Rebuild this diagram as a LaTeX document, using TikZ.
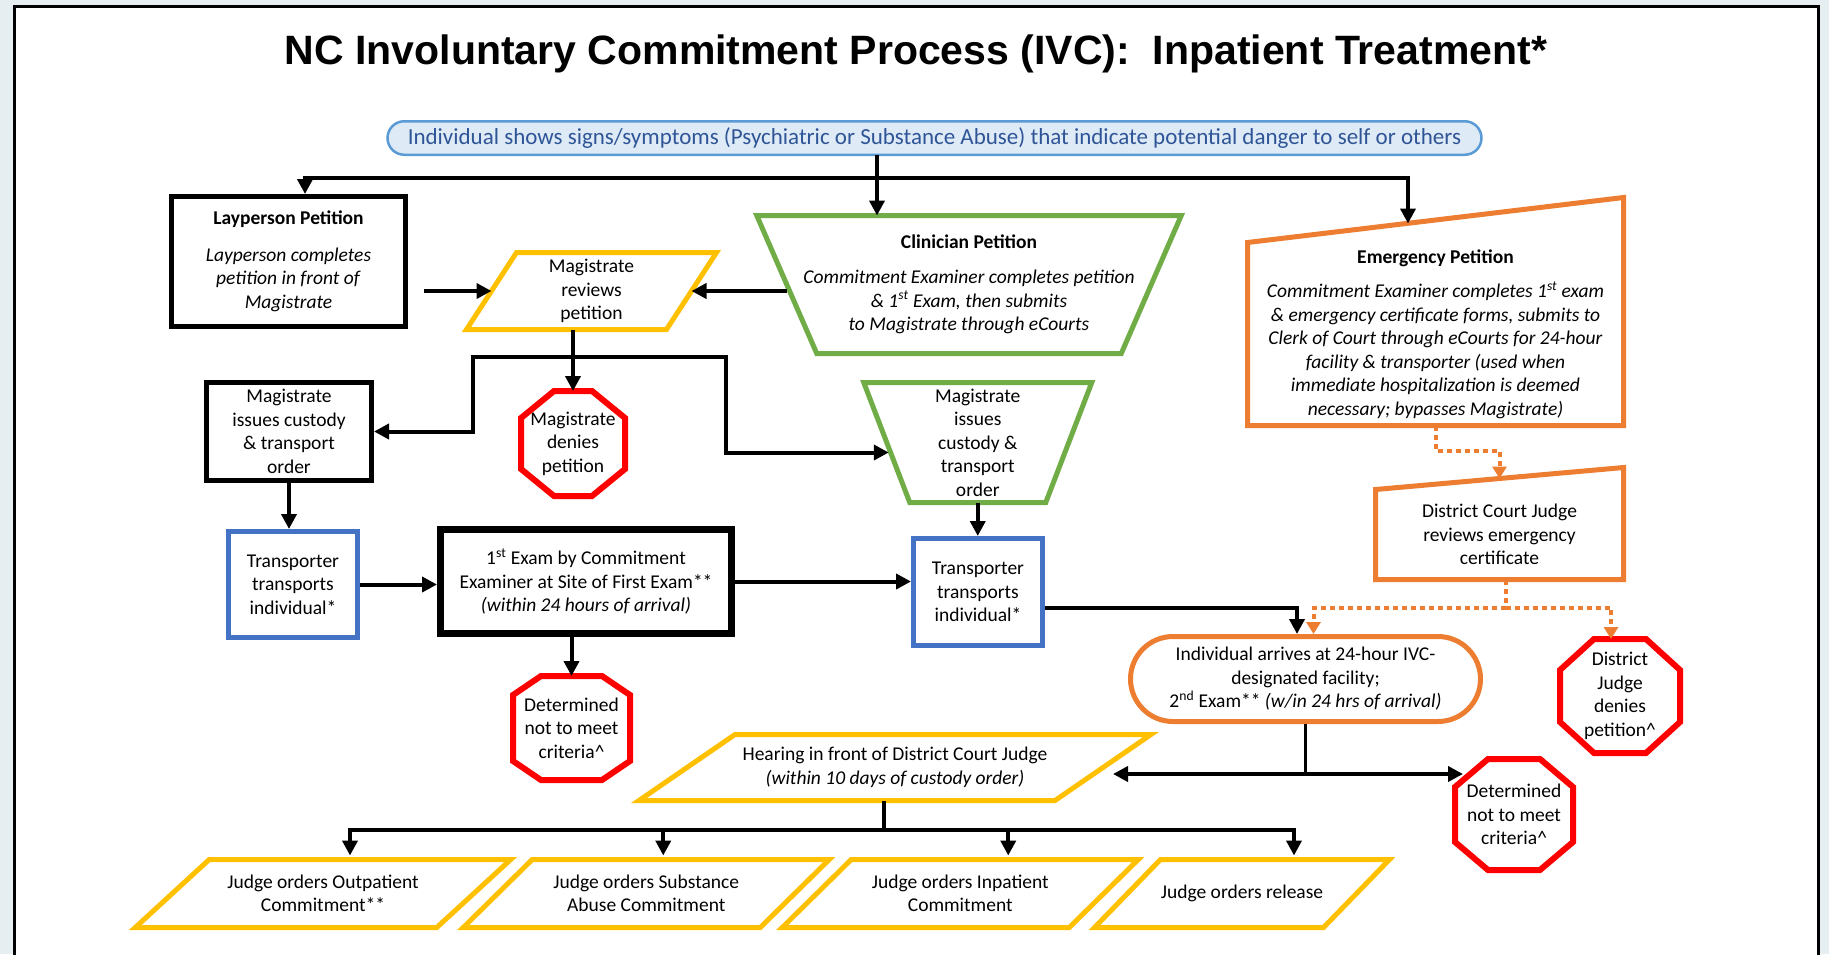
\documentclass[tikz,border=0pt]{standalone}
\usepackage{fontspec}
\setmainfont{Carlito}
\newfontfamily\titlefont{Liberation Sans}
\usetikzlibrary{arrows.meta,calc,shapes.misc}

\definecolor{ivcyellow}{HTML}{FFC000}
\definecolor{ivcgreen}{HTML}{70AD47}
\definecolor{ivcblue}{HTML}{4472C4}
\definecolor{ivcorange}{HTML}{ED7D31}
\definecolor{ivcred}{HTML}{FF0000}
\definecolor{ovalfill}{HTML}{DEEBF7}
\definecolor{ovalline}{HTML}{5B9BD5}
\definecolor{ovaltext}{HTML}{2F5597}
\definecolor{pagebg}{HTML}{E7EEF2}

\tikzset{
  txt/.style={font=\fontsize{19.5}{23.5}\selectfont, align=center, inner sep=0pt, outer sep=0pt},
  box/.style={txt, draw, rectangle, line width=5pt, outer sep=2.5pt},
  arr/.style={line width=4pt, -{Triangle[length=15pt,width=15pt]}},
  odot/.style={ivcorange, line width=4pt, dash pattern=on 5pt off 4pt},
  otip/.style={-{Triangle[length=12pt,width=14pt]}},
}
\newcommand\paraframe[3]{\draw[#1, line width=5pt] ([xshift=#3]#2.north west) -- ([xshift=#3]#2.north east)
  -- ([xshift=-#3]#2.south east) -- ([xshift=-#3]#2.south west) -- cycle;}
\newcommand\funnelframe[3]{\draw[#1, line width=5pt] ([xshift=-#3]#2.north west) -- ([xshift=#3]#2.north east)
  -- ([xshift=-#3]#2.south east) -- ([xshift=#3]#2.south west) -- cycle;}
\newcommand\slantframe[3]{\draw[#1, line width=5pt] (#2.south west) -- (#2.south east)
  -- ([yshift=#3]#2.north east) -- (#2.north west) -- cycle;}
\newcommand\octframe[3]{\draw[ivcred, line width=6pt] ([xshift=#2]#1.north west) -- ([xshift=-#2]#1.north east)
  -- ([yshift=-#3]#1.north east) -- ([yshift=#3]#1.south east) -- ([xshift=-#2]#1.south east)
  -- ([xshift=#2]#1.south west) -- ([yshift=#3]#1.south west) -- ([yshift=-#3]#1.north west) -- cycle;}

\begin{document}
\begin{tikzpicture}[x=1pt, y=-1pt]
\clip (0,0) rectangle (1829,954);
\fill[pagebg] (0,0) rectangle (1829,954);
\draw[line width=2.5pt, fill=white] (14.5,6.5) rectangle (1818.5,1000);

\node[anchor=base, font=\titlefont\bfseries\fontsize{41}{44}\selectfont] (title) at (916,64)
  {NC Involuntary Commitment Process (IVC):\ \ Inpatient Treatment*};

\node[txt, rounded rectangle, draw=ovalline, fill=ovalfill, line width=2.5pt, text=ovaltext,
  font=\fontsize{23}{26}\selectfont, minimum width=1094pt, minimum height=33.5pt] (sign) at (934.5,138)
  {Individual shows signs/symptoms (Psychiatric or Substance Abuse) that indicate potential danger to self or others};

\node[box, minimum width=234pt, minimum height=130pt] (lay) at (288.5,261.5)
  {\textbf{Layperson Petition}\\[13pt]\textit{Layperson completes}\\\textit{petition in front of}\\\textit{Magistrate}};
\node[txt, minimum width=200pt, minimum height=77pt] (mrev) at (591.5,291) {Magistrate\\reviews\\petition};
\paraframe{ivcyellow}{mrev}{25pt}
\node[txt, minimum width=364.5pt, minimum height=138pt] (clin) at (969,284.5)
  {\textbf{Clinician Petition}\\[12pt]\textit{Commitment Examiner completes petition}\\
   \textit{\& 1\textsuperscript{st} Exam, then submits}\\\textit{to Magistrate through eCourts}};
\funnelframe{ivcgreen}{clin}{30pt}
\node[txt, minimum width=376pt, minimum height=183pt] (emg) at (1435.5,334)
  {\textbf{Emergency Petition}\\[11pt]\textit{Commitment Examiner completes 1\textsuperscript{st} exam}\\
   \textit{\& emergency certificate forms, submits to}\\\textit{Clerk of Court through eCourts for 24-hour}\\
   \textit{facility \& transporter (used when}\\\textit{immediate hospitalization is deemed}\\
   \textit{necessary; bypasses Magistrate)}};
\slantframe{ivcorange}{emg}{45pt}

\node[box, minimum width=165pt, minimum height=98pt] (miss) at (289,431.5)
  {Magistrate\\issues custody\\\& transport\\order};
\node[txt, minimum width=104pt, minimum height=105pt] (deny) at (573,443.5) {Magistrate\\denies\\petition};
\octframe{deny}{33pt}{27pt}
\node[txt, minimum width=182pt, minimum height=120pt] (custg) at (977.75,442.5)
  {Magistrate\\issues\\custody \&\\transport\\order};
\funnelframe{ivcgreen}{custg}{23pt}
\node[txt, minimum width=248pt, minimum height=90pt] (djr) at (1499.5,534.5)
  {District Court Judge\\reviews emergency\\certificate};
\slantframe{ivcorange}{djr}{22pt}

\node[box, draw=ivcblue, minimum width=129pt, minimum height=106pt] (tr1) at (293,584.5)
  {Transporter\\transports\\individual*};
\node[box, line width=7pt, outer sep=3.5pt, minimum width=291pt, minimum height=104pt] (ex1) at (586,581.5)
  {1\textsuperscript{st} Exam by Commitment\\Examiner at Site of First Exam**\\\textit{(within 24 hours of arrival)}};
\node[box, draw=ivcblue, minimum width=129pt, minimum height=107pt] (tr2) at (978,592)
  {Transporter\\transports\\individual*};
\node[txt, minimum width=117pt, minimum height=104pt] (crit1) at (571.5,728)
  {Determined\\not to meet\\criteria\textasciicircum};
\octframe{crit1}{28pt}{19pt}
\node[txt, rounded rectangle, draw=ivcorange, line width=5pt, outer sep=2.5pt,
  minimum width=350pt, minimum height=85pt] (fac) at (1305.5,679)
  {Individual arrives at 24-hour IVC-\\designated facility;\\2\textsuperscript{nd} Exam** \textit{(w/in 24 hrs of arrival)}};
\node[txt, minimum width=120pt, minimum height=114pt] (djd) at (1620,696)
  {District\\Judge\\denies\\petition\textasciicircum};
\octframe{djd}{34pt}{31pt}
\node[txt, minimum width=118pt, minimum height=111pt] (crit2) at (1514,814.5)
  {Determined\\not to meet\\criteria\textasciicircum};
\octframe{crit2}{33pt}{28pt}
\node[txt, minimum width=416pt, minimum height=66pt] (hear) at (895,767.5)
  {Hearing in front of District Court Judge\\\textit{(within 10 days of custody order)}};
\paraframe{ivcyellow}{hear}{48pt}

\node[txt, minimum width=301.5pt, minimum height=68pt] (ord1) at (323,893.5) {Judge orders Outpatient\\Commitment**};
\paraframe{ivcyellow}{ord1}{37pt}
\node[txt, minimum width=297pt, minimum height=68pt] (ord2) at (646.25,893.5) {Judge orders Substance\\Abuse Commitment};
\paraframe{ivcyellow}{ord2}{34.5pt}
\node[txt, minimum width=287pt, minimum height=68pt] (ord3) at (960.25,893.5) {Judge orders Inpatient\\Commitment};
\paraframe{ivcyellow}{ord3}{34.5pt}
\node[txt, minimum width=229pt, minimum height=68pt] (ord4) at (1242,893.5) {Judge orders release};
\paraframe{ivcyellow}{ord4}{33pt}

\coordinate (ov) at ($(sign.south)+(-57.5,0)$);
\coordinate (bus) at ($(ov)+(0,23)$);
\coordinate (emgtop) at ($(emg.north west)+(160.5,-19)$);
\draw[arr] (ov) -- (ov |- clin.north);
\draw[arr] (bus) -| ($(lay.north)+(16.5,0)$);
\draw[arr] (bus) -| (emgtop);

\draw[arr] ($(lay.east |- mrev.west)+(16,0)$) -- (mrev.west);
\draw[arr] (clin.west |- mrev.east) -- (mrev.east);
\draw[arr] (mrev.south -| deny.north) -- (deny.north);
\coordinate (mb) at ($(mrev.south -| deny.north)+(0,27)$);
\draw[arr] (mb) -- ++(-100,0) |- (miss.east);
\draw[arr] (mb) -- ++(153,0) |- ($(custg.west)+(2,10)$);

\draw[arr] (miss.south) -- (miss.south |- tr1.north);
\draw[arr] (tr1.east) -- (tr1.east -| ex1.west);
\draw[arr] (ex1.east) -- (ex1.east -| tr2.west);
\draw[arr] (custg.south) -- (custg.south |- tr2.north);
\draw[arr] (ex1.south -| crit1.north) -- (crit1.north);
\draw[arr] ($(tr2.east)+(0,16)$) -| ($(fac.north)+(-8.5,0)$);

\draw[odot, otip] (emg.south) -- ++(0,25) -| ($(djr.north)+(0,-11)$);
\draw[odot] ($(djr.south)+(6,0)$) -- ++(0,28) coordinate (ob);
\draw[odot, otip] (ob) -| ($(fac.north)+(8,0)$);
\draw[odot, otip] (ob) -| ($(djd.north)+(-9,0)$);

\draw[line width=3.5pt] (fac.south) -- ++(0,50) coordinate (fb);
\draw[arr] (fb) -- ($(fb -| hear.east)+(10,0)$);
\draw[arr] (fb) -- ($(fb -| crit2.west)+(8,0)$);

\draw[line width=4pt] ($(hear.south)+(-11,0)$) -- ++(0,29) coordinate (hb);
\draw[arr] (hb) -| ($(ord1.north)+(27,-4)$);
\draw[arr] (hb) -| ($(ord2.north)+(17,-4)$);
\draw[arr] (hb) -| ($(ord3.north)+(48,-4)$);
\draw[arr] (hb) -| ($(ord4.north)+(52,-4)$);
\end{tikzpicture}
\end{document}
